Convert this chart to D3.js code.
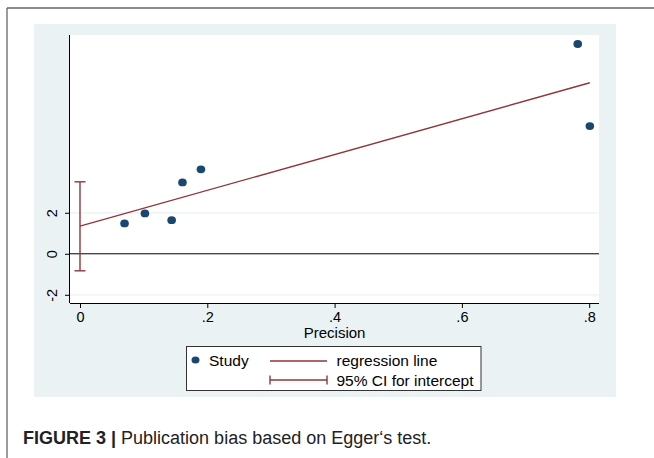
<!DOCTYPE html>
<html><head><meta charset="utf-8">
<script src="https://cdn.jsdelivr.net/npm/d3@7"></script>
<style>body{margin:0;background:#fff}svg{display:block}text{font-family:"Liberation Sans",Arial,sans-serif}</style>
</head><body>
<script>
// Data
const precision = [0.070, 0.102, 0.144, 0.161, 0.190, 0.782, 0.801];
const stdEffect = [1.48, 1.97, 1.64, 3.48, 4.12, 10.23, 6.23];
const regIntercept = 1.35, regSlope = 8.73;
const ciIntercept = [-0.83, 3.51];
const xTicks = [0, 0.2, 0.4, 0.6, 0.8];
const xTickLabels = ["0", ".2", ".4", ".6", ".8"];
const yTicks = [-2, 0, 2];
const yTickLabels = ["-2", "0", "2"];
const gridYs = [-2, 2];

const W = 654, H = 458;
const svg = d3.select("body").append("svg").attr("width", W).attr("height", H);
const navy = "#1a476f", maroon = "#90353b", bg = "#eaf2f3";

// frame
svg.append("line").attr("x1",7).attr("x2",W).attr("y1",8).attr("y2",8).attr("stroke","#666").attr("stroke-width",1.3);
svg.append("line").attr("x1",7).attr("x2",7).attr("y1",8).attr("y2",H).attr("stroke","#666").attr("stroke-width",1.3);

// graph background
svg.append("rect").attr("x",34).attr("y",24).attr("width",582).attr("height",373).attr("fill",bg);

const pl = 70, pr = 599, pt = 35, pb = 303;
svg.append("rect").attr("x",pl).attr("y",pt).attr("width",pr-pl).attr("height",pb-pt).attr("fill","#fff");

const x = d3.scaleLinear().domain([-0.0157, 0.8154]).range([pl, pr]);
const y = d3.scaleLinear().domain([-2.40, 10.67]).range([pb, pt]);

// grid
svg.selectAll(".grid").data(gridYs).enter().append("line")
  .attr("x1",pl).attr("x2",pr).attr("y1",d=>y(d)).attr("y2",d=>y(d))
  .attr("stroke",bg).attr("stroke-width",1.2);
// zero line
svg.append("line").attr("x1",pl).attr("x2",pr).attr("y1",y(0)).attr("y2",y(0)).attr("stroke","#000").attr("stroke-width",1);

// axes
const xAxis = d3.axisBottom(x).tickValues(xTicks).tickFormat((d,i)=>xTickLabels[i]).tickSize(5);
const gx = svg.append("g").attr("transform",`translate(0,${pb})`).call(xAxis);
gx.select(".domain").attr("d",`M${pl},0.5H${pr}`).attr("stroke","#000");
gx.selectAll("text").attr("font-size",14.5).attr("fill","#000").attr("font-family","Liberation Sans, Arial, sans-serif")
  .attr("y",19).attr("dy",0);

const yAxis = d3.axisLeft(y).tickValues(yTicks).tickFormat((d,i)=>yTickLabels[i]).tickSize(5).tickPadding(0);
const gy = svg.append("g").attr("transform",`translate(${pl},0)`).call(yAxis);
gy.select(".domain").attr("d",`M-0.5,${pt}V${pb}`).attr("stroke","#000");
gy.selectAll("text").attr("font-size",14.5).attr("fill","#000").attr("font-family","Liberation Sans, Arial, sans-serif")
  .attr("text-anchor","middle").attr("x",0).attr("dy",0)
  .attr("transform","translate(-13,0) rotate(-90)");

svg.append("text").attr("x",(x(0)+x(0.8))/2).attr("y",338).attr("text-anchor","middle").attr("font-size",15).text("Precision");

// regression line
const xmax = d3.max(precision);
svg.append("line").attr("x1",x(0)).attr("x2",x(xmax)).attr("y1",y(regIntercept)).attr("y2",y(regIntercept+regSlope*xmax))
  .attr("stroke",maroon).attr("stroke-width",1.4);

// CI
const ci = svg.append("g").attr("stroke",maroon).attr("stroke-width",1.4);
ci.append("line").attr("x1",x(0)).attr("x2",x(0)).attr("y1",y(ciIntercept[0])).attr("y2",y(ciIntercept[1]));
ciIntercept.forEach(v=>ci.append("line").attr("x1",x(0)-5.5).attr("x2",x(0)+5.5).attr("y1",y(v)).attr("y2",y(v)));

// points
svg.selectAll(".pt").data(precision).enter().append("ellipse")
  .attr("cx",(d)=>x(d)).attr("cy",(d,i)=>y(stdEffect[i])).attr("rx",4.3).attr("ry",3.9).attr("fill",navy);

// legend
const lg = svg.append("g");
lg.append("rect").attr("x",186.5).attr("y",346.5).attr("width",294.5).attr("height",44).attr("fill","#fff").attr("stroke","#333").attr("stroke-width",1);
lg.append("ellipse").attr("cx",195.5).attr("cy",360).attr("rx",4).attr("ry",3.6).attr("fill",navy);
lg.append("text").attr("x",209).attr("y",365.5).attr("font-size",15.5).text("Study");
lg.append("line").attr("x1",270).attr("x2",327).attr("y1",361).attr("y2",361).attr("stroke",maroon).attr("stroke-width",1.4);
lg.append("text").attr("x",336.5).attr("y",365.5).attr("font-size",15.5).text("regression line");
const lc = lg.append("g").attr("stroke",maroon).attr("stroke-width",1.4);
lc.append("line").attr("x1",270).attr("x2",327).attr("y1",380).attr("y2",380);
lc.append("line").attr("x1",270).attr("x2",270).attr("y1",375.5).attr("y2",384.5);
lc.append("line").attr("x1",327).attr("x2",327).attr("y1",375.5).attr("y2",384.5);
lg.append("text").attr("x",336.5).attr("y",385.5).attr("font-size",15.5).text("95% CI for intercept");

// caption
const cap = svg.append("text").attr("x",23).attr("y",444).attr("font-size",18).attr("fill","#222");
cap.append("tspan").attr("font-weight","bold").text("FIGURE 3 | ");
cap.append("tspan").text("Publication bias based on Egger‘s test.");
</script>
</body></html>
